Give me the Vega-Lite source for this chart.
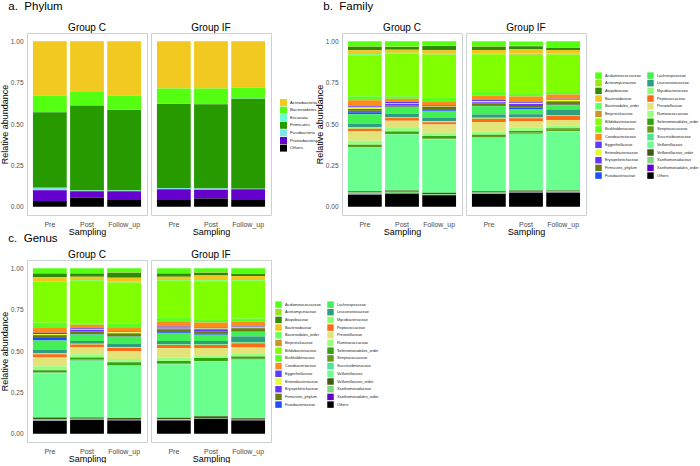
{
"$schema": "https://vega.github.io/schema/vega-lite/v6.json",
"padding": {"left": 0, "top": 0, "right": 0, "bottom": 0},
"background": "white",
"datasets": {
"phylum": [
{"group":"Group C","sampling":"Pre","Actinobacteria":0.33,"Bacteroidetes":0.097,"Excavata":0.002,"Firmicutes":0.457,"Fusobacteria":0.014,"Proteobacteria":0.066,"Others":0.034},
{"group":"Group C","sampling":"Post","Actinobacteria":0.306,"Bacteroidetes":0.08,"Excavata":0.002,"Firmicutes":0.514,"Fusobacteria":0.004,"Proteobacteria":0.04,"Others":0.054},
{"group":"Group C","sampling":"Follow_up","Actinobacteria":0.33,"Bacteroidetes":0.082,"Excavata":0.002,"Firmicutes":0.488,"Fusobacteria":0.004,"Proteobacteria":0.054,"Others":0.04},
{"group":"Group IF","sampling":"Pre","Actinobacteria":0.286,"Bacteroidetes":0.09,"Excavata":0.002,"Firmicutes":0.509,"Fusobacteria":0.007,"Proteobacteria":0.066,"Others":0.04},
{"group":"Group IF","sampling":"Post","Actinobacteria":0.286,"Bacteroidetes":0.093,"Excavata":0.002,"Firmicutes":0.509,"Fusobacteria":0.008,"Proteobacteria":0.052,"Others":0.05},
{"group":"Group IF","sampling":"Follow_up","Actinobacteria":0.28,"Bacteroidetes":0.066,"Excavata":0.002,"Firmicutes":0.544,"Fusobacteria":0.002,"Proteobacteria":0.066,"Others":0.04}
],
"family": [
{"group":"Group C","sampling":"Pre","Acidaminococcaceae":0.03,"Actinomycetaceae":0.003,"Atopobiaceae":0.022,"Bacteroidaceae":0.024,"Bacteroidales_order":0.004,"Beijerinckiaceae":0.001,"Bifidobacteriaceae":0.249,"Burkholderiaceae":0.024,"Coriobacteriaceae":0.036,"Eggerthellaceae":0.008,"Enterobacteriaceae":0.008,"Erysipelotrichaceae":0.008,"Firmicutes_phylum":0.012,"Fusobacteriaceae":0.012,"Lachnospiraceae":0.057,"Leuconostocaceae":0.02,"Mycobacteriaceae":0.01,"Peptococcaceae":0.016,"Prevotellaceae":0.057,"Ruminococcaceae":0.024,"Selenomonadales_order":0.008,"Streptococcaceae":0.008,"Succinivibrionaceae":0.002,"Veillonellaceae":0.263,"Veillonellaceae_order":0.008,"Xanthomonadaceae":0.012,"Xanthomonadales_order":0.001,"Others":0.073},
{"group":"Group C","sampling":"Post","Acidaminococcaceae":0.032,"Actinomycetaceae":0.003,"Atopobiaceae":0.016,"Bacteroidaceae":0.018,"Bacteroidales_order":0.004,"Beijerinckiaceae":0.001,"Bifidobacteriaceae":0.259,"Burkholderiaceae":0.014,"Coriobacteriaceae":0.02,"Eggerthellaceae":0.006,"Enterobacteriaceae":0.004,"Erysipelotrichaceae":0.01,"Firmicutes_phylum":0.008,"Fusobacteriaceae":0.003,"Lachnospiraceae":0.04,"Leuconostocaceae":0.02,"Mycobacteriaceae":0.004,"Peptococcaceae":0.018,"Prevotellaceae":0.044,"Ruminococcaceae":0.022,"Selenomonadales_order":0.008,"Streptococcaceae":0.008,"Succinivibrionaceae":0.002,"Veillonellaceae":0.338,"Veillonellaceae_order":0.008,"Xanthomonadaceae":0.01,"Xanthomonadales_order":0.001,"Others":0.079},
{"group":"Group C","sampling":"Follow_up","Acidaminococcaceae":0.026,"Actinomycetaceae":0.003,"Atopobiaceae":0.026,"Bacteroidaceae":0.02,"Bacteroidales_order":0.004,"Beijerinckiaceae":0.001,"Bifidobacteriaceae":0.259,"Burkholderiaceae":0.024,"Coriobacteriaceae":0.024,"Eggerthellaceae":0.004,"Enterobacteriaceae":0.004,"Erysipelotrichaceae":0.008,"Firmicutes_phylum":0.014,"Fusobacteriaceae":0.004,"Lachnospiraceae":0.042,"Leuconostocaceae":0.02,"Mycobacteriaceae":0.006,"Peptococcaceae":0.014,"Prevotellaceae":0.05,"Ruminococcaceae":0.02,"Selenomonadales_order":0.014,"Streptococcaceae":0.004,"Succinivibrionaceae":0.002,"Veillonellaceae":0.323,"Veillonellaceae_order":0.008,"Xanthomonadaceae":0.006,"Xanthomonadales_order":0.001,"Others":0.069},
{"group":"Group IF","sampling":"Pre","Acidaminococcaceae":0.03,"Actinomycetaceae":0.003,"Atopobiaceae":0.02,"Bacteroidaceae":0.02,"Bacteroidales_order":0.004,"Beijerinckiaceae":0.001,"Bifidobacteriaceae":0.224,"Burkholderiaceae":0.026,"Coriobacteriaceae":0.026,"Eggerthellaceae":0.008,"Enterobacteriaceae":0.006,"Erysipelotrichaceae":0.006,"Firmicutes_phylum":0.012,"Fusobacteriaceae":0.006,"Lachnospiraceae":0.05,"Leuconostocaceae":0.02,"Mycobacteriaceae":0.006,"Peptococcaceae":0.02,"Prevotellaceae":0.057,"Ruminococcaceae":0.02,"Selenomonadales_order":0.008,"Streptococcaceae":0.008,"Succinivibrionaceae":0.002,"Veillonellaceae":0.323,"Veillonellaceae_order":0.008,"Xanthomonadaceae":0.008,"Xanthomonadales_order":0.001,"Others":0.077},
{"group":"Group IF","sampling":"Post","Acidaminococcaceae":0.026,"Actinomycetaceae":0.003,"Atopobiaceae":0.016,"Bacteroidaceae":0.028,"Bacteroidales_order":0.004,"Beijerinckiaceae":0.004,"Bifidobacteriaceae":0.232,"Burkholderiaceae":0.02,"Coriobacteriaceae":0.035,"Eggerthellaceae":0.006,"Enterobacteriaceae":0.004,"Erysipelotrichaceae":0.012,"Firmicutes_phylum":0.01,"Fusobacteriaceae":0.008,"Lachnospiraceae":0.032,"Leuconostocaceae":0.02,"Mycobacteriaceae":0.004,"Peptococcaceae":0.018,"Prevotellaceae":0.04,"Ruminococcaceae":0.02,"Selenomonadales_order":0.008,"Streptococcaceae":0.008,"Succinivibrionaceae":0.002,"Veillonellaceae":0.341,"Veillonellaceae_order":0.008,"Xanthomonadaceae":0.004,"Xanthomonadales_order":0.001,"Others":0.085},
{"group":"Group IF","sampling":"Follow_up","Acidaminococcaceae":0.036,"Actinomycetaceae":0.003,"Atopobiaceae":0.014,"Bacteroidaceae":0.02,"Bacteroidales_order":0.006,"Beijerinckiaceae":0.001,"Bifidobacteriaceae":0.222,"Burkholderiaceae":0.02,"Coriobacteriaceae":0.026,"Eggerthellaceae":0.006,"Enterobacteriaceae":0.008,"Erysipelotrichaceae":0.004,"Firmicutes_phylum":0.018,"Fusobacteriaceae":0.002,"Lachnospiraceae":0.026,"Leuconostocaceae":0.034,"Mycobacteriaceae":0.004,"Peptococcaceae":0.026,"Prevotellaceae":0.034,"Ruminococcaceae":0.016,"Selenomonadales_order":0.008,"Streptococcaceae":0.008,"Succinivibrionaceae":0.002,"Veillonellaceae":0.358,"Veillonellaceae_order":0.006,"Xanthomonadaceae":0.006,"Xanthomonadales_order":0.001,"Others":0.085}
],
"genus": [
{"group":"Group C","sampling":"Pre","Acidaminococcaceae":0.028,"Actinomycetaceae":0.003,"Atopobiaceae":0.023,"Bacteroidaceae":0.024,"Bacteroidales_order":0.004,"Beijerinckiaceae":0.001,"Bifidobacteriaceae":0.247,"Burkholderiaceae":0.026,"Coriobacteriaceae":0.034,"Eggerthellaceae":0.008,"Enterobacteriaceae":0.006,"Erysipelotrichaceae":0.004,"Firmicutes_phylum":0.014,"Fusobacteriaceae":0.014,"Lachnospiraceae":0.056,"Leuconostocaceae":0.02,"Mycobacteriaceae":0.008,"Peptococcaceae":0.02,"Prevotellaceae":0.052,"Ruminococcaceae":0.024,"Selenomonadales_order":0.012,"Streptococcaceae":0.004,"Succinivibrionaceae":0.002,"Veillonellaceae":0.268,"Veillonellaceae_order":0.012,"Xanthomonadaceae":0.008,"Xanthomonadales_order":0.001,"Others":0.077},
{"group":"Group C","sampling":"Post","Acidaminococcaceae":0.028,"Actinomycetaceae":0.003,"Atopobiaceae":0.02,"Bacteroidaceae":0.02,"Bacteroidales_order":0.004,"Beijerinckiaceae":0.001,"Bifidobacteriaceae":0.26,"Burkholderiaceae":0.006,"Coriobacteriaceae":0.02,"Eggerthellaceae":0.008,"Enterobacteriaceae":0.003,"Erysipelotrichaceae":0.008,"Firmicutes_phylum":0.016,"Fusobacteriaceae":0.003,"Lachnospiraceae":0.04,"Leuconostocaceae":0.016,"Mycobacteriaceae":0.004,"Peptococcaceae":0.016,"Prevotellaceae":0.044,"Ruminococcaceae":0.02,"Selenomonadales_order":0.012,"Streptococcaceae":0.006,"Succinivibrionaceae":0.002,"Veillonellaceae":0.342,"Veillonellaceae_order":0.008,"Xanthomonadaceae":0.006,"Xanthomonadales_order":0.001,"Others":0.083},
{"group":"Group C","sampling":"Follow_up","Acidaminococcaceae":0.024,"Actinomycetaceae":0.003,"Atopobiaceae":0.03,"Bacteroidaceae":0.024,"Bacteroidales_order":0.004,"Beijerinckiaceae":0.001,"Bifidobacteriaceae":0.25,"Burkholderiaceae":0.02,"Coriobacteriaceae":0.026,"Eggerthellaceae":0.004,"Enterobacteriaceae":0.006,"Erysipelotrichaceae":0.004,"Firmicutes_phylum":0.016,"Fusobacteriaceae":0.002,"Lachnospiraceae":0.044,"Leuconostocaceae":0.02,"Mycobacteriaceae":0.004,"Peptococcaceae":0.02,"Prevotellaceae":0.046,"Ruminococcaceae":0.02,"Selenomonadales_order":0.016,"Streptococcaceae":0.004,"Succinivibrionaceae":0.002,"Veillonellaceae":0.315,"Veillonellaceae_order":0.01,"Xanthomonadaceae":0.004,"Xanthomonadales_order":0.001,"Others":0.08},
{"group":"Group IF","sampling":"Pre","Acidaminococcaceae":0.028,"Actinomycetaceae":0.003,"Atopobiaceae":0.02,"Bacteroidaceae":0.02,"Bacteroidales_order":0.004,"Beijerinckiaceae":0.001,"Bifidobacteriaceae":0.222,"Burkholderiaceae":0.026,"Coriobacteriaceae":0.028,"Eggerthellaceae":0.008,"Enterobacteriaceae":0.004,"Erysipelotrichaceae":0.004,"Firmicutes_phylum":0.018,"Fusobacteriaceae":0.008,"Lachnospiraceae":0.046,"Leuconostocaceae":0.02,"Mycobacteriaceae":0.004,"Peptococcaceae":0.02,"Prevotellaceae":0.056,"Ruminococcaceae":0.02,"Selenomonadales_order":0.016,"Streptococcaceae":0.004,"Succinivibrionaceae":0.002,"Veillonellaceae":0.321,"Veillonellaceae_order":0.01,"Xanthomonadaceae":0.006,"Xanthomonadales_order":0.001,"Others":0.08},
{"group":"Group IF","sampling":"Post","Acidaminococcaceae":0.024,"Actinomycetaceae":0.003,"Atopobiaceae":0.016,"Bacteroidaceae":0.03,"Bacteroidales_order":0.004,"Beijerinckiaceae":0.001,"Bifidobacteriaceae":0.23,"Burkholderiaceae":0.02,"Coriobacteriaceae":0.03,"Eggerthellaceae":0.006,"Enterobacteriaceae":0.004,"Erysipelotrichaceae":0.016,"Firmicutes_phylum":0.008,"Fusobacteriaceae":0.01,"Lachnospiraceae":0.038,"Leuconostocaceae":0.02,"Mycobacteriaceae":0.004,"Peptococcaceae":0.018,"Prevotellaceae":0.044,"Ruminococcaceae":0.016,"Selenomonadales_order":0.018,"Streptococcaceae":0.002,"Succinivibrionaceae":0.002,"Veillonellaceae":0.331,"Veillonellaceae_order":0.01,"Xanthomonadaceae":0.004,"Xanthomonadales_order":0.001,"Others":0.09},
{"group":"Group IF","sampling":"Follow_up","Acidaminococcaceae":0.03,"Actinomycetaceae":0.003,"Atopobiaceae":0.014,"Bacteroidaceae":0.024,"Bacteroidales_order":0.004,"Beijerinckiaceae":0.001,"Bifidobacteriaceae":0.227,"Burkholderiaceae":0.02,"Coriobacteriaceae":0.024,"Eggerthellaceae":0.006,"Enterobacteriaceae":0.006,"Erysipelotrichaceae":0.004,"Firmicutes_phylum":0.018,"Fusobacteriaceae":0.002,"Lachnospiraceae":0.03,"Leuconostocaceae":0.036,"Mycobacteriaceae":0.004,"Peptococcaceae":0.026,"Prevotellaceae":0.034,"Ruminococcaceae":0.02,"Selenomonadales_order":0.014,"Streptococcaceae":0.004,"Succinivibrionaceae":0.002,"Veillonellaceae":0.354,"Veillonellaceae_order":0.008,"Xanthomonadaceae":0.004,"Xanthomonadales_order":0.001,"Others":0.08}
]
},
"vconcat": [
{
"hconcat": [
{
"title": {"text": "a. \u00a0Phylum", "offset": 11},
"data": {"name": "phylum"},
"transform": [
{"fold": ["Actinobacteria","Bacteroidetes","Excavata","Firmicutes","Fusobacteria","Proteobacteria","Others"], "as": ["taxon","abundance"]},
{"calculate": "indexof(['Actinobacteria','Bacteroidetes','Excavata','Firmicutes','Fusobacteria','Proteobacteria','Others'], datum.taxon)", "as": "rank"}
],
"facet": {"column": {"field": "group", "type": "nominal", "title": null}},
"spacing": 2,
"spec": {
"width": 120, "height": 182,
"mark": "bar",
"encoding": {
"x": {"field": "sampling", "type": "nominal", "sort": ["Pre","Post","Follow_up"], "title": "Sampling", "scale": {"paddingInner": 0.09, "paddingOuter": 0.16}},
"y": {"field": "abundance", "type": "quantitative", "stack": "zero", "title": "Relative abundance", "scale": {"domain": [-0.05, 1.05], "nice": false, "zero": false}, "axis": {"values": [0, 0.25, 0.5, 0.75, 1], "format": ".2f"}},
"order": {"field": "rank", "type": "quantitative", "sort": "descending"},
"color": {"field": "taxon", "type": "nominal",
"sort": ["Actinobacteria","Bacteroidetes","Excavata","Firmicutes","Fusobacteria","Proteobacteria","Others"],
"scale": {"domain": ["Actinobacteria","Bacteroidetes","Excavata","Firmicutes","Fusobacteria","Proteobacteria","Others"], "range": ["#F2C920","#55FF11","#66FFCC","#279A00","#80E5E8","#6600CC","#000000"]},
"legend": {"title": null, "orient": "none", "legendX": 253, "legendY": 66, "symbolType": "square", "symbolSize": 49, "symbolStrokeWidth": 0, "labelFontSize": 4.3, "labelOffset": 3, "rowPadding": 0.6, "padding": 0}}
}
}
},
{
"title": {"text": "b. \u00a0Family", "offset": 11},
"data": {"name": "family"},
"transform": [
{"fold": ["Acidaminococcaceae","Actinomycetaceae","Atopobiaceae","Bacteroidaceae","Bacteroidales_order","Beijerinckiaceae","Bifidobacteriaceae","Burkholderiaceae","Coriobacteriaceae","Eggerthellaceae","Enterobacteriaceae","Erysipelotrichaceae","Firmicutes_phylum","Fusobacteriaceae","Lachnospiraceae","Leuconostocaceae","Mycobacteriaceae","Peptococcaceae","Prevotellaceae","Ruminococcaceae","Selenomonadales_order","Streptococcaceae","Succinivibrionaceae","Veillonellaceae","Veillonellaceae_order","Xanthomonadaceae","Xanthomonadales_order","Others"], "as": ["taxon","abundance"]},
{"calculate": "indexof(['Acidaminococcaceae','Actinomycetaceae','Atopobiaceae','Bacteroidaceae','Bacteroidales_order','Beijerinckiaceae','Bifidobacteriaceae','Burkholderiaceae','Coriobacteriaceae','Eggerthellaceae','Enterobacteriaceae','Erysipelotrichaceae','Firmicutes_phylum','Fusobacteriaceae','Lachnospiraceae','Leuconostocaceae','Mycobacteriaceae','Peptococcaceae','Prevotellaceae','Ruminococcaceae','Selenomonadales_order','Streptococcaceae','Succinivibrionaceae','Veillonellaceae','Veillonellaceae_order','Xanthomonadaceae','Xanthomonadales_order','Others'], datum.taxon)", "as": "rank"}
],
"facet": {"column": {"field": "group", "type": "nominal", "title": null}},
"spacing": 2,
"spec": {
"width": 120, "height": 182,
"mark": "bar",
"encoding": {
"x": {"field": "sampling", "type": "nominal", "sort": ["Pre","Post","Follow_up"], "title": "Sampling", "scale": {"paddingInner": 0.09, "paddingOuter": 0.16}},
"y": {"field": "abundance", "type": "quantitative", "stack": "zero", "title": "Relative abundance", "scale": {"domain": [-0.05, 1.05], "nice": false, "zero": false}, "axis": {"values": [0, 0.25, 0.5, 0.75, 1], "format": ".2f"}},
"order": {"field": "rank", "type": "quantitative", "sort": "descending"},
"color": {"field": "taxon", "type": "nominal",
"sort": ["Acidaminococcaceae","Actinomycetaceae","Atopobiaceae","Bacteroidaceae","Bacteroidales_order","Beijerinckiaceae","Bifidobacteriaceae","Burkholderiaceae","Coriobacteriaceae","Eggerthellaceae","Enterobacteriaceae","Erysipelotrichaceae","Firmicutes_phylum","Fusobacteriaceae","Lachnospiraceae","Leuconostocaceae","Mycobacteriaceae","Peptococcaceae","Prevotellaceae","Ruminococcaceae","Selenomonadales_order","Streptococcaceae","Succinivibrionaceae","Veillonellaceae","Veillonellaceae_order","Xanthomonadaceae","Xanthomonadales_order","Others"],
"scale": {"domain": ["Acidaminococcaceae","Actinomycetaceae","Atopobiaceae","Bacteroidaceae","Bacteroidales_order","Beijerinckiaceae","Bifidobacteriaceae","Burkholderiaceae","Coriobacteriaceae","Eggerthellaceae","Enterobacteriaceae","Erysipelotrichaceae","Firmicutes_phylum","Fusobacteriaceae","Lachnospiraceae","Leuconostocaceae","Mycobacteriaceae","Peptococcaceae","Prevotellaceae","Ruminococcaceae","Selenomonadales_order","Streptococcaceae","Succinivibrionaceae","Veillonellaceae","Veillonellaceae_order","Xanthomonadaceae","Xanthomonadales_order","Others"],
"range": ["#55FF11","#99E619","#2E8B0A","#F2C61F","#66FF66","#C8962A","#80FF00","#5CFF22","#FF8C1A","#5B3DFF","#E6FF33","#6A33FF","#6B7D0A","#1F4DFF","#44EE55","#2E9E80","#8CFF70","#FF6A14","#E3E37A","#99FF80","#33A30F","#66991A","#4DE699","#6AFF8F","#3D5C0F","#80D980","#6600CC","#000000"]},
"legend": {"title": null, "orient": "none", "legendX": 253, "legendY": 39, "columns": 2, "columnPadding": 6,
"symbolType": "square", "symbolSize": 42, "symbolStrokeWidth": 0, "labelFontSize": 3.8, "labelOffset": 3, "rowPadding": 0.7, "padding": 0}}
}
}
}
],
"spacing": -3,
"resolve": {"scale": {"color": "independent"}, "legend": {"color": "independent"}}
},
{
"title": {"text": "c. \u00a0Genus", "offset": 6},
"data": {"name": "genus"},
"transform": [
{"fold": ["Acidaminococcaceae","Actinomycetaceae","Atopobiaceae","Bacteroidaceae","Bacteroidales_order","Beijerinckiaceae","Bifidobacteriaceae","Burkholderiaceae","Coriobacteriaceae","Eggerthellaceae","Enterobacteriaceae","Erysipelotrichaceae","Firmicutes_phylum","Fusobacteriaceae","Lachnospiraceae","Leuconostocaceae","Mycobacteriaceae","Peptococcaceae","Prevotellaceae","Ruminococcaceae","Selenomonadales_order","Streptococcaceae","Succinivibrionaceae","Veillonellaceae","Veillonellaceae_order","Xanthomonadaceae","Xanthomonadales_order","Others"], "as": ["taxon","abundance"]},
{"calculate": "indexof(['Acidaminococcaceae','Actinomycetaceae','Atopobiaceae','Bacteroidaceae','Bacteroidales_order','Beijerinckiaceae','Bifidobacteriaceae','Burkholderiaceae','Coriobacteriaceae','Eggerthellaceae','Enterobacteriaceae','Erysipelotrichaceae','Firmicutes_phylum','Fusobacteriaceae','Lachnospiraceae','Leuconostocaceae','Mycobacteriaceae','Peptococcaceae','Prevotellaceae','Ruminococcaceae','Selenomonadales_order','Streptococcaceae','Succinivibrionaceae','Veillonellaceae','Veillonellaceae_order','Xanthomonadaceae','Xanthomonadales_order','Others'], datum.taxon)", "as": "rank"}
],
"facet": {"column": {"field": "group", "type": "nominal", "title": null}},
"spacing": 2,
"spec": {
"width": 120, "height": 182,
"mark": "bar",
"encoding": {
"x": {"field": "sampling", "type": "nominal", "sort": ["Pre","Post","Follow_up"], "title": "Sampling", "scale": {"paddingInner": 0.09, "paddingOuter": 0.16}},
"y": {"field": "abundance", "type": "quantitative", "stack": "zero", "title": "Relative abundance", "scale": {"domain": [-0.05, 1.05], "nice": false, "zero": false}, "axis": {"values": [0, 0.25, 0.5, 0.75, 1], "format": ".2f"}},
"order": {"field": "rank", "type": "quantitative", "sort": "descending"},
"color": {"field": "taxon", "type": "nominal",
"sort": ["Acidaminococcaceae","Actinomycetaceae","Atopobiaceae","Bacteroidaceae","Bacteroidales_order","Beijerinckiaceae","Bifidobacteriaceae","Burkholderiaceae","Coriobacteriaceae","Eggerthellaceae","Enterobacteriaceae","Erysipelotrichaceae","Firmicutes_phylum","Fusobacteriaceae","Lachnospiraceae","Leuconostocaceae","Mycobacteriaceae","Peptococcaceae","Prevotellaceae","Ruminococcaceae","Selenomonadales_order","Streptococcaceae","Succinivibrionaceae","Veillonellaceae","Veillonellaceae_order","Xanthomonadaceae","Xanthomonadales_order","Others"],
"scale": {"domain": ["Acidaminococcaceae","Actinomycetaceae","Atopobiaceae","Bacteroidaceae","Bacteroidales_order","Beijerinckiaceae","Bifidobacteriaceae","Burkholderiaceae","Coriobacteriaceae","Eggerthellaceae","Enterobacteriaceae","Erysipelotrichaceae","Firmicutes_phylum","Fusobacteriaceae","Lachnospiraceae","Leuconostocaceae","Mycobacteriaceae","Peptococcaceae","Prevotellaceae","Ruminococcaceae","Selenomonadales_order","Streptococcaceae","Succinivibrionaceae","Veillonellaceae","Veillonellaceae_order","Xanthomonadaceae","Xanthomonadales_order","Others"],
"range": ["#55FF11","#99E619","#2E8B0A","#F2C61F","#66FF66","#C8962A","#80FF00","#5CFF22","#FF8C1A","#5B3DFF","#E6FF33","#6A33FF","#6B7D0A","#1F4DFF","#44EE55","#2E9E80","#8CFF70","#FF6A14","#E3E37A","#99FF80","#33A30F","#66991A","#4DE699","#6AFF8F","#3D5C0F","#80D980","#6600CC","#000000"]},
"legend": {"title": null, "orient": "none", "legendX": 248, "legendY": 41, "columns": 2, "columnPadding": 6,
"symbolType": "square", "symbolSize": 42, "symbolStrokeWidth": 0, "labelFontSize": 3.8, "labelOffset": 3, "rowPadding": 0.7, "padding": 0}}
}
}
}
],
"spacing": -4,
"resolve": {"scale": {"color": "independent"}, "legend": {"color": "independent"}},
"config": {
"font": "Liberation Sans",
"view": {"stroke": "#c9d1d5", "strokeWidth": 1},
"title": {"anchor": "start", "fontSize": 11.5, "fontWeight": "normal", "color": "black", "frame": "bounds", "dx": 8},
"header": {"labelFontSize": 10, "labelColor": "black", "labelPadding": -1},
"axis": {"grid": false, "domain": false, "ticks": false, "labelColor": "#4d4d4d", "labelFontSize": 7, "titleFontSize": 9, "titleFontWeight": "normal", "titleColor": "black"},
"axisX": {"labelAngle": 0, "labelPadding": 4, "titlePadding": 0},
"axisY": {"labelPadding": 3, "titlePadding": 1, "labelFontSize": 6.5},
"legend": {"labelColor": "#222222"}
}
}
